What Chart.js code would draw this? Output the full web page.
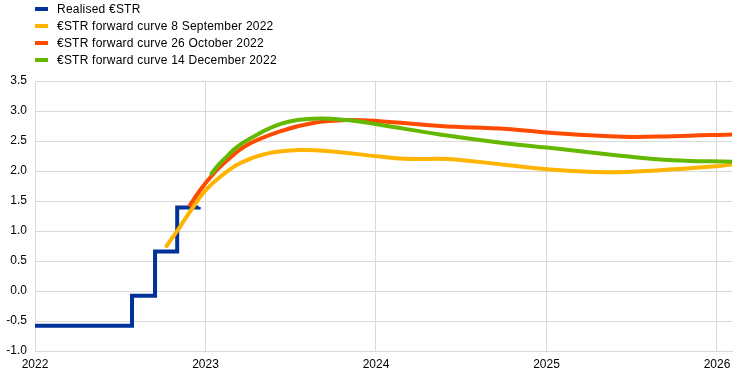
<!DOCTYPE html>
<html>
<head>
<meta charset="utf-8">
<script src="https://cdn.jsdelivr.net/npm/chart.js@4/dist/chart.umd.min.js"></script>
<style>
  html, body { margin: 0; padding: 0; background: #fff; }
  #wrap { position: relative; width: 742px; height: 378px; }
  #legend { position: absolute; left: 35px; top: 1px; font: 12px "Liberation Sans", Arial, sans-serif; color: #000; letter-spacing: 0.22px; }
  .item { height: 16.8px; display: flex; align-items: center; white-space: nowrap; }
  .sw { width: 13px; height: 4px; margin-right: 9px; }
  canvas { position: absolute; left: 0; top: 0; }
</style>
</head>
<body>
<div id="wrap">
  <canvas id="c" width="742" height="378"></canvas>
  <div id="legend"></div>
</div>
<script>
// ---- data (decimal years) ----
const seriesLabels = [
  "Realised €STR",
  "€STR forward curve 8 September 2022",
  "€STR forward curve 26 October 2022",
  "€STR forward curve 14 December 2022"
];
const seriesColors = ["#003299", "#FFB400", "#FF4B00", "#65B800"];

const realisedDates  = [2022.000, 2022.569, 2022.704, 2022.834, 2022.960];
const realisedValues = [-0.58, -0.08, 0.66, 1.39, 1.40];

const sepDates  = [2022.772, 2022.850, 2022.928, 2023.001, 2023.085, 2023.202, 2023.359, 2023.554, 2023.730, 2024.023, 2024.200, 2024.420, 2024.768, 2025.003, 2025.355, 2025.648, 2026.000, 2026.088];
const sepValues = [0.75, 1.07, 1.40, 1.68, 1.90, 2.13, 2.29, 2.35, 2.33, 2.24, 2.20, 2.20, 2.10, 2.03, 1.98, 2.01, 2.08, 2.11];

const octDates  = [2022.909, 2022.968, 2023.036, 2023.124, 2023.242, 2023.437, 2023.630, 2023.828, 2024.023, 2024.375, 2024.768, 2025.003, 2025.449, 2025.742, 2026.088];
const octValues = [1.43, 1.68, 1.92, 2.17, 2.43, 2.66, 2.80, 2.85, 2.83, 2.75, 2.70, 2.64, 2.57, 2.58, 2.61];

const decDates  = [2023.036, 2023.079, 2023.124, 2023.180, 2023.242, 2023.437, 2023.630, 2023.828, 2024.023, 2024.375, 2024.768, 2025.003, 2025.449, 2025.742, 2026.088];
const decValues = [1.96, 2.11, 2.24, 2.39, 2.51, 2.78, 2.87, 2.85, 2.77, 2.61, 2.46, 2.39, 2.25, 2.18, 2.155];

const xTicks = [2022, 2023, 2024, 2025, 2026];
const yMin = -1.0, yMax = 3.5, yStep = 0.5;
const xMin = 2022, xMax = 2026.088;

// ---- build ----
const pts = (xs, ys) => xs.map((x, i) => ({ x: x, y: ys[i] }));
const FONT = { family: '"Liberation Sans", Arial, sans-serif', size: 12 };
const GRID = '#d9d9d9';

const datasets = [
  { label: seriesLabels[0], data: pts(realisedDates, realisedValues), borderColor: seriesColors[0], stepped: 'before', order: 3, borderJoinStyle: 'miter', borderCapStyle: 'butt', tension: 0 },
  { label: seriesLabels[1], data: pts(sepDates, sepValues), borderColor: seriesColors[1], order: 2 },
  { label: seriesLabels[2], data: pts(octDates, octValues), borderColor: seriesColors[2], order: 1 },
  { label: seriesLabels[3], data: pts(decDates, decValues), borderColor: seriesColors[3], order: 0 }
].map(d => Object.assign({ borderWidth: 4, pointRadius: 0, fill: false, borderCapStyle: 'round', tension: 0.4, backgroundColor: d.borderColor }, d));

const legend = document.getElementById('legend');
seriesLabels.forEach((l, i) => {
  const it = document.createElement('div'); it.className = 'item';
  const sw = document.createElement('span'); sw.className = 'sw'; sw.style.background = seriesColors[i];
  const tx = document.createElement('span'); tx.textContent = l;
  it.appendChild(sw); it.appendChild(tx); legend.appendChild(it);
});

new Chart(document.getElementById('c'), {
  type: 'line',
  data: { datasets: datasets },
  options: {
    responsive: false,
    animation: false,
    layout: { padding: { top: 81, right: 10, left: 0, bottom: 0 } },
    plugins: { legend: { display: false }, tooltip: { enabled: false } },
    scales: {
      x: {
        type: 'linear', min: xMin, max: xMax,
        afterBuildTicks: s => { s.ticks = xTicks.map(v => ({ value: v })); },
        afterFit: s => { s.height = 27; },
        grid: { color: GRID, lineWidth: 1, drawTicks: false },
        border: { color: GRID },
        ticks: { font: FONT, color: '#000', padding: 6, maxRotation: 0, callback: v => String(v) }
      },
      y: {
        min: yMin, max: yMax,
        afterFit: s => { s.width = 35; },
        grid: { color: GRID, lineWidth: 1, drawTicks: false },
        border: { color: GRID },
        ticks: { stepSize: yStep, font: FONT, color: '#000', padding: 8, callback: v => v.toFixed(1) }
      }
    }
  }
});
</script>
</body>
</html>
